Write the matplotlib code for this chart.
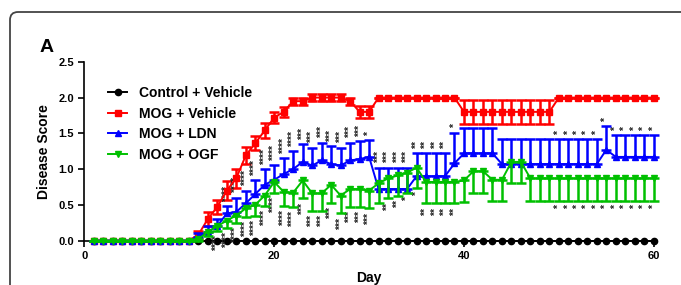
import matplotlib
matplotlib.use('Agg')
import matplotlib.pyplot as plt
from matplotlib.patches import FancyBboxPatch

plt.rcParams['font.family'] = ['Liberation Sans', 'DejaVu Sans']
plt.rcParams['font.weight'] = 'bold'

# day of the experiment
days = list(range(1, 61))

# group means and SEM
control_mean = [0.0] * 60

vehicle_mean = ([0.0] * 11 +
                [0.08, 0.30, 0.47, 0.70, 0.87, 1.19, 1.36, 1.54, 1.72, 1.80,
                 1.95, 1.95, 2.0, 2.0, 2.0, 2.0, 1.95, 1.80, 1.80] +
                [2.0] * 9 + [1.80] * 10 + [2.0] * 11)
vehicle_sem = ([0.0] * 11 +
               [0.06, 0.10, 0.10, 0.13, 0.13, 0.12, 0.10, 0.10, 0.08, 0.07,
                0.05, 0.05, 0.05, 0.05, 0.05, 0.05, 0.05, 0.08, 0.08] +
               [0.0] * 9 + [0.17] * 10 + [0.0] * 11)

ldn_mean = ([0.0] * 11 +
            [0.05, 0.12, 0.20, 0.38, 0.40, 0.52, 0.65, 0.78, 0.85, 0.93,
             1.00, 1.10, 1.05, 1.12, 1.07, 1.05, 1.12, 1.14, 1.17] +
            [0.72] * 4 + [0.90] * 4 + [1.08] + [1.22] * 4 + [1.07] * 11 +
            [1.27] + [1.17] * 5)
ldn_sem = ([0.0] * 11 +
           [0.05, 0.08, 0.10, 0.10, 0.20, 0.18, 0.20, 0.22, 0.20, 0.22,
            0.25, 0.25, 0.25, 0.25, 0.25, 0.25, 0.25, 0.25, 0.23] +
           [0.30] * 4 + [0.32] * 4 + [0.43] + [0.35] * 4 + [0.35] * 11 +
           [0.33] + [0.30] * 5)

ogf_mean = ([0.0] * 11 +
            [0.02, 0.12, 0.20, 0.28, 0.35, 0.45, 0.50, 0.63, 0.82, 0.68,
             0.67, 0.84, 0.66, 0.66, 0.78, 0.63, 0.72, 0.72, 0.70,
             0.80, 0.87, 0.91, 0.95, 1.02] +
            [0.82] * 4 + [0.84, 0.97, 0.97, 0.85, 0.85, 1.10, 1.10] +
            [0.87] * 14)
ogf_sem = ([0.0] * 11 +
           [0.02, 0.05, 0.07, 0.10, 0.10, 0.12, 0.15, 0.15, 0.15, 0.20,
            0.20] + [0.25] * 8 + [0.28] * 5 +
           [0.30] * 4 + [0.30] * 7 + [0.32] * 14)

# significance marks above LDN and below OGF
ldn_star_days = list(range(15, 40)) + list(range(50, 61))
ldn_stars = (['****'] * 8 + ['***'] * 7 + ['*'] + ['***'] * 4 + ['**'] * 4 +
             ['*'] + ['*'] * 11)
ogf_star_days = list(range(14, 31)) + [32, 33, 34, 35, 36, 37, 38, 39] + list(range(50, 61))
ogf_stars = (['****'] * 9 + ['***'] * 8 + ['**', '**', '*', '*'] +
             ['**'] * 4 + ['*'] * 11)

fig = plt.figure(figsize=(6.81, 2.85), dpi=100)
ax = fig.add_axes([0.124, 0.156, 0.836, 0.627])

series = [
    ('Control + Vehicle', control_mean, None, 'black', 'o', 2),
    ('MOG + Vehicle', vehicle_mean, 'both', '#ff0000', 's', 3),
    ('MOG + LDN', ldn_mean, 'up', '#0000ff', '^', 4),
    ('MOG + OGF', ogf_mean, 'down', '#00c000', 'v', 5),
]
sems = {'MOG + Vehicle': vehicle_sem, 'MOG + LDN': ldn_sem, 'MOG + OGF': ogf_sem}

for label, mean, side, color, marker, z in series:
    if side is not None:
        sem = sems[label]
        zeros = [0.0] * len(sem)
        if side == 'both':
            yerr = [sem, sem]
        elif side == 'up':
            yerr = [zeros, sem]
        else:
            yerr = [sem, zeros]
        ax.errorbar(days, mean, yerr=yerr, fmt='none', ecolor=color,
                    elinewidth=1.8, capsize=3.4, capthick=1.8, zorder=z,
                    clip_on=False)
    ax.plot(days, mean, color=color, marker=marker, markersize=4.5,
            linewidth=1.4, label=label, zorder=z + 0.5, clip_on=False)

for d, s in zip(ldn_star_days, ldn_stars):
    top = ldn_mean[d - 1] + ldn_sem[d - 1]
    ax.annotate(s, (d, top), xytext=(0, 3), textcoords='offset points',
                rotation=90, ha='center', va='bottom', fontsize=7.5,
                color='#222222', fontweight='bold')
for d, s in zip(ogf_star_days, ogf_stars):
    bottom = ogf_mean[d - 1] - ogf_sem[d - 1]
    ax.annotate(s, (d, bottom), xytext=(0, -3), textcoords='offset points',
                rotation=90, ha='center', va='top', fontsize=7.5,
                color='#222222', fontweight='bold')

ax.set_xlim(0, 60)
ax.set_ylim(0, 2.5)
ax.set_xticks([0, 20, 40, 60])
ax.set_yticks([0, 0.5, 1.0, 1.5, 2.0, 2.5])
ax.set_yticklabels(['0.0', '0.5', '1.0', '1.5', '2.0', '2.5'])
ax.tick_params(labelsize=8, width=1.2, length=4, direction='out')
for sp in ['top', 'right']:
    ax.spines[sp].set_visible(False)
for sp in ['left', 'bottom']:
    ax.spines[sp].set_linewidth(1.2)

ax.set_xlabel('Day', fontsize=10, fontweight='bold', labelpad=7)
ax.set_ylabel('Disease Score', fontsize=10, fontweight='bold', labelpad=5)

ax.legend(loc='upper left', bbox_to_anchor=(0.042, 0.865), frameon=False,
          fontsize=10, borderaxespad=0, borderpad=0, handlelength=1.35,
          handletextpad=0.85, labelspacing=0.48)

fig.text(40 / 681, 1 - 48 / 285, 'A', fontsize=14, fontweight='bold',
         va='center', ha='left')

frame = FancyBboxPatch((0.10, -0.5), 7.0, 2.73 + 0.5,
                       boxstyle='round,pad=0,rounding_size=0.08',
                       transform=fig.dpi_scale_trans, fill=False,
                       edgecolor='#444444', linewidth=1.3, clip_on=False)
fig.patches.append(frame)

fig.savefig('out.png', dpi=100)
